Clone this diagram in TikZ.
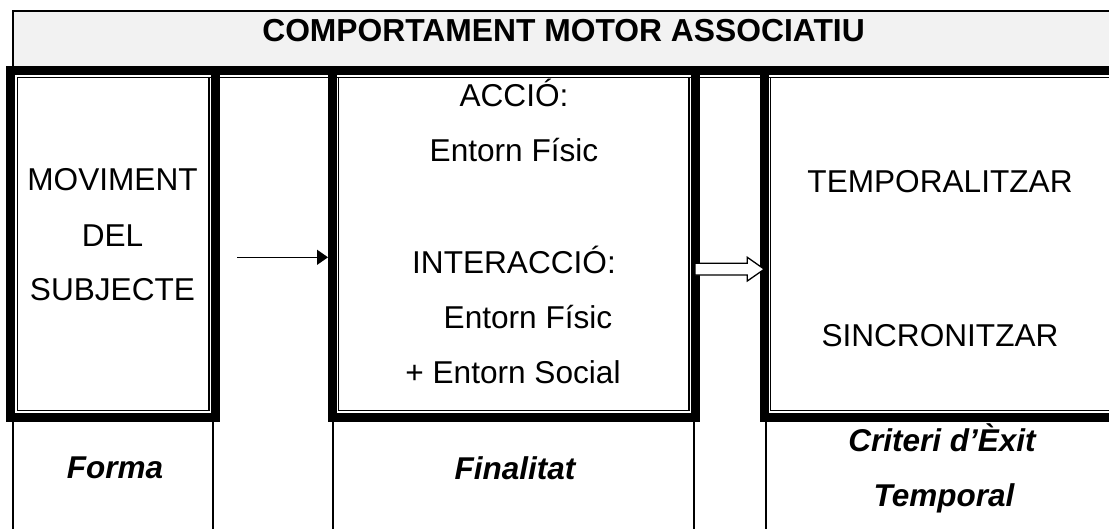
\documentclass[tikz,border=0pt]{standalone}
\usepackage{fontspec}
\setmainfont{Liberation Sans}
\usetikzlibrary{arrows.meta}
\begin{document}
\begin{tikzpicture}[x=1pt,y=-1pt,
  thickframe/.style={draw, line width=9pt, rectangle, inner sep=0pt},
  thinline/.style={line width=1.3pt},
  txt/.style={font=\fontsize{31.6}{37}\selectfont, anchor=base, inner sep=0pt},
  lbl/.style={font=\fontsize{31.5}{37}\selectfont\bfseries\itshape, anchor=base, inner sep=0pt},
  ttl/.style={font=\fontsize{31.8}{37}\selectfont\bfseries, anchor=base, inner sep=0pt}
]
\useasboundingbox (0,0) rectangle (1109,528);
\clip (0,0) rectangle (1109,528);
\fill[white] (0,0) rectangle (1109,528);

% title box
\draw[thinline, fill=black!5] (13,66) -- (13,11) -- (1130,11) -- (1130,66);
\node[ttl] (title) at (563.5,41) {COMPORTAMENT MOTOR ASSOCIATIU};

% thick bar and thin line below it
\draw[line width=8.5pt] (6,70.25) -- (1130,70.25);
\draw[thinline] (17.3,77.3) -- (1130,77.3);

% framed boxes (thick outer)
\node[thickframe, minimum width=205pt, minimum height=347.25pt] (box1) at (113,243.875) {};
\node[thickframe, minimum width=363pt, minimum height=347.25pt] (box2) at (514,243.875) {};
\node[thickframe, minimum width=370pt, minimum height=347.25pt] (box3) at (949.5,243.875) {};

% thin inner lines
\draw[thinline] (17.3,77.3) rectangle (209,410.5);
\draw[thinline] (338.3,77.3) rectangle (689,410.5);
\draw[thinline] (770.7,77.3) -- (770.7,410.5) -- (1130,410.5);

% bottom row column lines
\foreach \xx in {13,213,333,694,766} {
  \draw[thinline] (\xx,422) -- (\xx,540);
}

% box 1 text
\node[txt] (m1) at (112.5,190) {MOVIMENT};
\node[txt] (m2) at (112.5,246.7) {DEL};
\node[txt] (m3) at (112.5,300) {SUBJECTE};

% box 2 text
\node[txt] (f1) at (514,106.7) {ACCIÓ:};
\node[txt] (f2) at (514,161.7) {Entorn Físic};
\node[txt] (f3) at (514,273.3) {INTERACCIÓ:};
\node[txt] (f4) at (528,328.3) {Entorn Físic};
\node[txt] (f5) at (513,383.3) {+ Entorn Social};

% box 3 text
\node[txt] (c1) at (940,192.7) {TEMPORALITZAR};
\node[txt] (c2) at (940,346.7) {SINCRONITZAR};

% bottom labels
\node[lbl] (l1) at (115,478) {Forma};
\node[lbl] (l2) at (515,479) {Finalitat};
\node[lbl] (l3) at (942,451) {Criteri d’Èxit};
\node[lbl] (l4) at (944,506) {Temporal};

% arrow 1
\coordinate (a1) at (237,257.3);
\draw[thinline, -{Triangle[length=11pt,width=15pt]}] (a1) -- (a1 -| box2.west);

% hollow arrow 2
\draw[thinline, fill=white, line join=miter]
  (695,263.3) -- (747.3,263.3) -- (747.3,257.3) -- (764.3,269.2)
  -- (747.3,281) -- (747.3,275) -- (695,275) -- cycle;
\end{tikzpicture}
\end{document}
